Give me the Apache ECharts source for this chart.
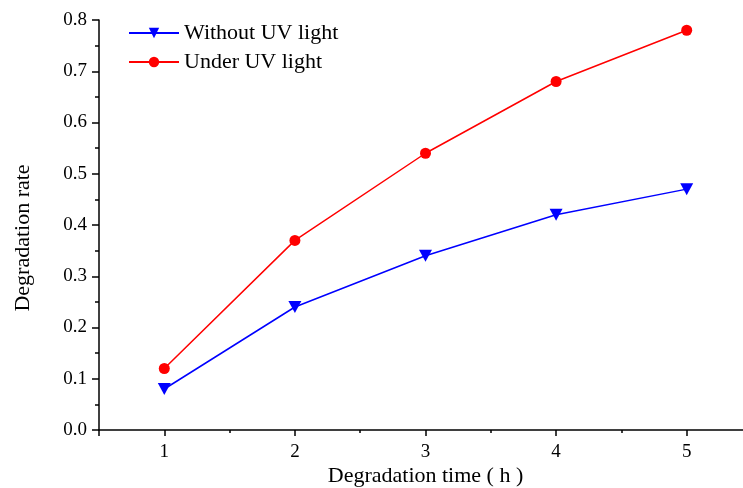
<!DOCTYPE html>
<html>
<head>
<meta charset="utf-8">
<script src="https://cdn.jsdelivr.net/npm/echarts@6/dist/echarts.min.js"></script>
</head>
<body style="margin:0">
<div id="main" style="width:743px;height:488px"></div>
<script>
// degradation time (h)
var hours = [1, 2, 3, 4, 5];
var withoutUV = [0.08, 0.24, 0.34, 0.42, 0.47];
var underUV = [0.12, 0.37, 0.54, 0.68, 0.78];
var xMajorTicks = [0.5, 1, 2, 3, 4, 5];
var xMinorTicks = [1.5, 2.5, 3.5, 4.5];

function pairs(xs, ys) {
  var out = [];
  for (var i = 0; i < xs.length; i++) out.push([xs[i], ys[i]]);
  return out;
}

var font = 'Liberation Serif';
var downTri = 'path://M0,0 L10,0 L5,9 Z';
var chart = echarts.init(document.getElementById('main'));

// the x axis runs a little past the right edge of the picture (to 5.5)
chart.setOption({
  backgroundColor: '#fff',
  animation: false,
  grid: { left: 99, width: 653, top: 20, bottom: 58, outerBoundsMode: 'none' },
  legend: {
    orient: 'vertical',
    left: 128, top: 22, padding: 0,
    itemWidth: 50, itemHeight: 13, itemGap: 7,
    textStyle: { fontFamily: font, fontSize: 22, color: '#000' },
    data: ['Without UV light', 'Under UV light']
  },
  xAxis: [{
    type: 'value', min: 0.5, max: 5.5,
    name: 'Degradation time ( h )', nameLocation: 'middle', nameGap: 35,
    nameMoveOverlap: false,
    nameTextStyle: { fontFamily: font, fontSize: 22, color: '#000' },
    axisLine: { lineStyle: { color: '#000', width: 1.5 } },
    axisTick: { length: 6, lineStyle: { color: '#000', width: 1.5 }, customValues: xMajorTicks },
    axisLabel: { margin: 13, fontFamily: font, fontSize: 19, color: '#000', customValues: hours },
    splitLine: { show: false }
  }, {
    type: 'value', min: 0.5, max: 5.5, position: 'bottom',
    axisLine: { show: false },
    axisTick: { length: 3, lineStyle: { color: '#000', width: 1.5 }, customValues: xMinorTicks },
    axisLabel: { show: false },
    splitLine: { show: false }
  }],
  yAxis: {
    type: 'value', min: 0, max: 0.8, interval: 0.1,
    name: 'Degradation rate', nameLocation: 'middle', nameGap: 65,
    nameMoveOverlap: false,
    // shifts the title a bit below the middle of the axis, as in the original
    nameTextStyle: { fontFamily: font, fontSize: 22, color: '#000', padding: [0, 26, 0, 0] },
    axisLine: { show: true, lineStyle: { color: '#000', width: 1.5 } },
    axisTick: { show: true, length: 7, lineStyle: { color: '#000', width: 1.5 } },
    minorTick: { show: true, splitNumber: 2, length: 4, lineStyle: { color: '#000', width: 1.5 } },
    axisLabel: { margin: 12, fontFamily: font, fontSize: 19, color: '#000',
      formatter: function (v) { return v.toFixed(1); } },
    splitLine: { show: false }
  },
  series: [{
    name: 'Without UV light', type: 'line',
    data: pairs(hours, withoutUV),
    symbol: downTri, symbolSize: [13, 12],
    itemStyle: { color: '#0000ff' },
    lineStyle: { color: '#0000ff', width: 1.5 }
  }, {
    name: 'Under UV light', type: 'line',
    data: pairs(hours, underUV),
    symbol: 'circle', symbolSize: 11,
    itemStyle: { color: '#ff0000' },
    lineStyle: { color: '#ff0000', width: 1.5 }
  }]
});
</script>
</body>
</html>
